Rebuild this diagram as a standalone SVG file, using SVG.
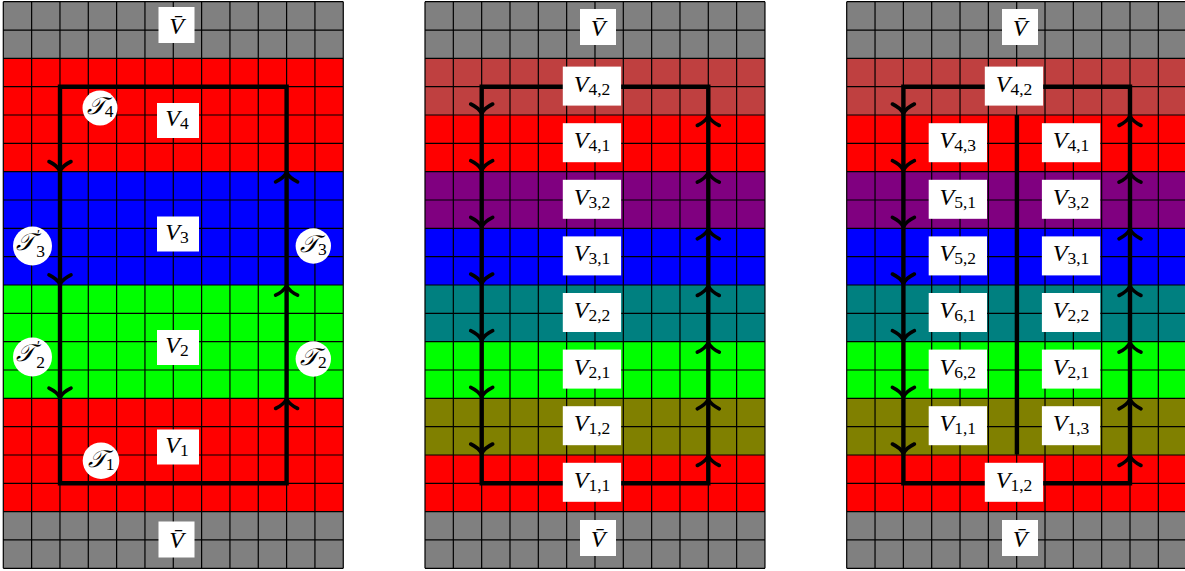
<svg xmlns="http://www.w3.org/2000/svg" xmlns:xlink="http://www.w3.org/1999/xlink" width="1185" height="571" viewBox="0 0 1185 571">
<style>
.gy{fill:#808080}.rd{fill:#ff0000}.bl{fill:#0000ff}.gr{fill:#00ff00}.lr{fill:#bf4040}.pu{fill:#800080}.te{fill:#008080}.ol{fill:#808000}
.grid{fill:none;stroke:#000;stroke-width:1.2}
.loop{fill:none;stroke:#000;stroke-width:4.4;stroke-linejoin:miter}
.ah{fill:none;stroke:#000;stroke-width:3.6;stroke-linecap:round}
.box{fill:#fff}
.m{font-family:"Liberation Serif",serif;font-size:24px;font-style:italic;text-anchor:middle;fill:#000}
.s{font-style:normal;font-size:17.5px}
.p{font-style:normal;font-size:14px}
</style>
<defs>
<path id="grid" class="grid" d="M0 0V566.6M28.33 0V566.6M56.66 0V566.6M84.99 0V566.6M113.32 0V566.6M141.65 0V566.6M169.98 0V566.6M198.31 0V566.6M226.64 0V566.6M254.97 0V566.6M283.3 0V566.6M311.63 0V566.6M339.96 0V566.6M0 0H340M0 28.33H340M0 56.66H340M0 84.99H340M0 113.32H340M0 141.65H340M0 169.98H340M0 198.31H340M0 226.64H340M0 254.97H340M0 283.3H340M0 311.63H340M0 339.96H340M0 368.29H340M0 396.62H340M0 424.95H340M0 453.28H340M0 481.61H340M0 509.94H340M0 538.27H340M0 566.6H340"/>
<path id="ad" class="ah" d="M-11,-9.5C-6.8,-7.5 -1.8,-3.5 0,0C1.8,-3.5 6.8,-7.5 11,-9.5"/>
<path id="au" class="ah" d="M-11,9.5C-6.8,7.5 -1.8,3.5 0,0C1.8,3.5 6.8,7.5 11,9.5"/>
</defs>
<rect width="1185" height="571" fill="#fff"/>
<g id="panel1" transform="translate(3.3,1.7)">
<rect class="gy" x="0" y="0" width="340" height="56.66"/>
<rect class="rd" x="0" y="56.66" width="340" height="113.32"/>
<rect class="bl" x="0" y="169.98" width="340" height="113.32"/>
<rect class="gr" x="0" y="283.3" width="340" height="113.32"/>
<rect class="rd" x="0" y="396.62" width="340" height="113.32"/>
<rect class="gy" x="0" y="509.94" width="340" height="56.66"/>
<use xlink:href="#grid"/>
</g>
<g id="panel2" transform="translate(425,1.7)">
<rect class="gy" x="0" y="0" width="340" height="56.66"/>
<rect class="lr" x="0" y="56.66" width="340" height="56.66"/>
<rect class="rd" x="0" y="113.32" width="340" height="56.66"/>
<rect class="pu" x="0" y="169.98" width="340" height="56.66"/>
<rect class="bl" x="0" y="226.64" width="340" height="56.66"/>
<rect class="te" x="0" y="283.3" width="340" height="56.66"/>
<rect class="gr" x="0" y="339.96" width="340" height="56.66"/>
<rect class="ol" x="0" y="396.62" width="340" height="56.66"/>
<rect class="rd" x="0" y="453.28" width="340" height="56.66"/>
<rect class="gy" x="0" y="509.94" width="340" height="56.66"/>
<use xlink:href="#grid"/>
</g>
<g id="panel3" transform="translate(846.7,1.7)">
<rect class="gy" x="0" y="0" width="340" height="56.66"/>
<rect class="lr" x="0" y="56.66" width="340" height="56.66"/>
<rect class="rd" x="0" y="113.32" width="340" height="56.66"/>
<rect class="pu" x="0" y="169.98" width="340" height="56.66"/>
<rect class="bl" x="0" y="226.64" width="340" height="56.66"/>
<rect class="te" x="0" y="283.3" width="340" height="56.66"/>
<rect class="gr" x="0" y="339.96" width="340" height="56.66"/>
<rect class="ol" x="0" y="396.62" width="340" height="56.66"/>
<rect class="rd" x="0" y="453.28" width="340" height="56.66"/>
<rect class="gy" x="0" y="509.94" width="340" height="56.66"/>
<use xlink:href="#grid"/>
</g>
<g id="connectors">
<path class="loop" d="M60 86.7H286.6V483.3H60Z"/>
<use xlink:href="#ad" x="60" y="171"/><use xlink:href="#ad" x="60" y="284.3"/><use xlink:href="#ad" x="60" y="397.6"/>
<use xlink:href="#au" x="286.6" y="172.4"/><use xlink:href="#au" x="286.6" y="285.7"/><use xlink:href="#au" x="286.6" y="399"/>
<path class="loop" d="M481.7 86.7H708.3V483.3H481.7Z"/>
<use xlink:href="#ad" x="481.7" y="113.5"/><use xlink:href="#ad" x="481.7" y="170.2"/><use xlink:href="#ad" x="481.7" y="226.8"/><use xlink:href="#ad" x="481.7" y="283.5"/><use xlink:href="#ad" x="481.7" y="340.2"/><use xlink:href="#ad" x="481.7" y="396.8"/><use xlink:href="#ad" x="481.7" y="453.5"/>
<use xlink:href="#au" x="708.3" y="116"/><use xlink:href="#au" x="708.3" y="172.7"/><use xlink:href="#au" x="708.3" y="229.3"/><use xlink:href="#au" x="708.3" y="286"/><use xlink:href="#au" x="708.3" y="342.7"/><use xlink:href="#au" x="708.3" y="399.3"/><use xlink:href="#au" x="708.3" y="456"/>
<path class="loop" d="M903.4 86.7H1130V483.3H903.4Z"/>
<path class="loop" d="M1016.9 115V454.5"/>
<use xlink:href="#ad" x="903.4" y="113.5"/><use xlink:href="#ad" x="903.4" y="170.2"/><use xlink:href="#ad" x="903.4" y="226.8"/><use xlink:href="#ad" x="903.4" y="283.5"/><use xlink:href="#ad" x="903.4" y="340.2"/><use xlink:href="#ad" x="903.4" y="396.8"/><use xlink:href="#ad" x="903.4" y="453.5"/>
<use xlink:href="#au" x="1130" y="116"/><use xlink:href="#au" x="1130" y="172.7"/><use xlink:href="#au" x="1130" y="229.3"/><use xlink:href="#au" x="1130" y="286"/><use xlink:href="#au" x="1130" y="342.7"/><use xlink:href="#au" x="1130" y="399.3"/><use xlink:href="#au" x="1130" y="456"/>
</g>
<g id="labels1">
<g id="p1-vbar-top"><rect class="box" x="158.5" y="7" width="36" height="36"/><text class="m" x="176.5" y="33.5">V̄</text></g>
<g id="p1-V4"><rect class="box" x="157" y="103" width="42" height="35"/><text class="m" x="177" y="126">V<tspan class="s" dy="3">4</tspan></text></g>
<g id="p1-V3"><rect class="box" x="157" y="216.5" width="42" height="35"/><text class="m" x="177" y="239.5">V<tspan class="s" dy="3">3</tspan></text></g>
<g id="p1-V2"><rect class="box" x="157" y="330" width="42" height="35"/><text class="m" x="177" y="353">V<tspan class="s" dy="3">2</tspan></text></g>
<g id="p1-V1"><rect class="box" x="157" y="429.5" width="42" height="35"/><text class="m" x="177" y="452.5">V<tspan class="s" dy="3">1</tspan></text></g>
<g id="p1-vbar-bot"><rect class="box" x="158.5" y="521.5" width="36" height="36"/><text class="m" x="176.5" y="548">V̄</text></g>
<g id="T4"><circle class="box" cx="100" cy="108" r="17.5"/><text class="m" x="100" y="114">𝒯<tspan class="s" dy="3">4</tspan></text></g>
<g id="T3p"><circle class="box" cx="32.5" cy="246" r="19.5"/><text class="m" x="30.5" y="250">𝒯<tspan class="p" dx="3" dy="-10">′</tspan><tspan class="s" dx="-4" dy="17">3</tspan></text></g>
<g id="T2p"><circle class="box" cx="32.5" cy="357" r="19.5"/><text class="m" x="30.5" y="361">𝒯<tspan class="p" dx="3" dy="-10">′</tspan><tspan class="s" dx="-4" dy="17">2</tspan></text></g>
<g id="T3"><circle class="box" cx="313.3" cy="246" r="17.7"/><text class="m" x="313.3" y="252">𝒯<tspan class="s" dy="3">3</tspan></text></g>
<g id="T2"><circle class="box" cx="313.3" cy="359" r="17.7"/><text class="m" x="313.3" y="365">𝒯<tspan class="s" dy="3">2</tspan></text></g>
<g id="T1"><circle class="box" cx="101" cy="460.7" r="18.3"/><text class="m" x="101" y="466.7">𝒯<tspan class="s" dy="3">1</tspan></text></g>
</g>
<g id="labels2">
<g id="p2-vbar-top"><rect class="box" x="580" y="9" width="36" height="36"/><text class="m" x="598" y="35.5">V̄</text></g>
<g id="p2-V42"><rect class="box" x="562.8" y="66.6" width="58.3" height="39"/><text class="m" x="592" y="91.5">V<tspan class="s" dy="3">4,2</tspan></text></g>
<g id="p2-V41"><rect class="box" x="562.8" y="123.2" width="58.3" height="39"/><text class="m" x="592" y="148.1">V<tspan class="s" dy="3">4,1</tspan></text></g>
<g id="p2-V32"><rect class="box" x="562.8" y="179.8" width="58.3" height="39"/><text class="m" x="592" y="204.7">V<tspan class="s" dy="3">3,2</tspan></text></g>
<g id="p2-V31"><rect class="box" x="562.8" y="236.4" width="58.3" height="39"/><text class="m" x="592" y="261.3">V<tspan class="s" dy="3">3,1</tspan></text></g>
<g id="p2-V22"><rect class="box" x="562.8" y="293" width="58.3" height="39"/><text class="m" x="592" y="317.9">V<tspan class="s" dy="3">2,2</tspan></text></g>
<g id="p2-V21"><rect class="box" x="562.8" y="349.6" width="58.3" height="39"/><text class="m" x="592" y="374.5">V<tspan class="s" dy="3">2,1</tspan></text></g>
<g id="p2-V12"><rect class="box" x="562.8" y="406.2" width="58.3" height="39"/><text class="m" x="592" y="431.1">V<tspan class="s" dy="3">1,2</tspan></text></g>
<g id="p2-V11"><rect class="box" x="562.8" y="462.8" width="58.3" height="39"/><text class="m" x="592" y="487.7">V<tspan class="s" dy="3">1,1</tspan></text></g>
<g id="p2-vbar-bot"><rect class="box" x="580" y="520" width="36" height="36"/><text class="m" x="598" y="546.5">V̄</text></g>
</g>
<g id="labels3">
<g id="p3-vbar-top"><rect class="box" x="1002" y="9" width="36" height="36"/><text class="m" x="1020" y="35.5">V̄</text></g>
<g id="p3-V42"><rect class="box" x="984.8" y="66.6" width="58.3" height="39"/><text class="m" x="1014" y="91.5">V<tspan class="s" dy="3">4,2</tspan></text></g>
<g id="p3-V43"><rect class="box" x="928.7" y="123.2" width="58.3" height="39"/><text class="m" x="957.8" y="148.1">V<tspan class="s" dy="3">4,3</tspan></text></g>
<g id="p3-V51"><rect class="box" x="928.7" y="179.8" width="58.3" height="39"/><text class="m" x="957.8" y="204.7">V<tspan class="s" dy="3">5,1</tspan></text></g>
<g id="p3-V52"><rect class="box" x="928.7" y="236.4" width="58.3" height="39"/><text class="m" x="957.8" y="261.3">V<tspan class="s" dy="3">5,2</tspan></text></g>
<g id="p3-V61"><rect class="box" x="928.7" y="293" width="58.3" height="39"/><text class="m" x="957.8" y="317.9">V<tspan class="s" dy="3">6,1</tspan></text></g>
<g id="p3-V62"><rect class="box" x="928.7" y="349.6" width="58.3" height="39"/><text class="m" x="957.8" y="374.5">V<tspan class="s" dy="3">6,2</tspan></text></g>
<g id="p3-V11"><rect class="box" x="928.7" y="406.2" width="58.3" height="39"/><text class="m" x="957.8" y="431.1">V<tspan class="s" dy="3">1,1</tspan></text></g>
<g id="p3-V41"><rect class="box" x="1041.9" y="123.2" width="58.3" height="39"/><text class="m" x="1071" y="148.1">V<tspan class="s" dy="3">4,1</tspan></text></g>
<g id="p3-V32"><rect class="box" x="1041.9" y="179.8" width="58.3" height="39"/><text class="m" x="1071" y="204.7">V<tspan class="s" dy="3">3,2</tspan></text></g>
<g id="p3-V31"><rect class="box" x="1041.9" y="236.4" width="58.3" height="39"/><text class="m" x="1071" y="261.3">V<tspan class="s" dy="3">3,1</tspan></text></g>
<g id="p3-V22"><rect class="box" x="1041.9" y="293" width="58.3" height="39"/><text class="m" x="1071" y="317.9">V<tspan class="s" dy="3">2,2</tspan></text></g>
<g id="p3-V21"><rect class="box" x="1041.9" y="349.6" width="58.3" height="39"/><text class="m" x="1071" y="374.5">V<tspan class="s" dy="3">2,1</tspan></text></g>
<g id="p3-V13"><rect class="box" x="1041.9" y="406.2" width="58.3" height="39"/><text class="m" x="1071" y="431.1">V<tspan class="s" dy="3">1,3</tspan></text></g>
<g id="p3-V12"><rect class="box" x="984.8" y="462.8" width="58.3" height="39"/><text class="m" x="1014" y="487.7">V<tspan class="s" dy="3">1,2</tspan></text></g>
<g id="p3-vbar-bot"><rect class="box" x="1002" y="520" width="36" height="36"/><text class="m" x="1020" y="546.5">V̄</text></g>
</g>
</svg>
